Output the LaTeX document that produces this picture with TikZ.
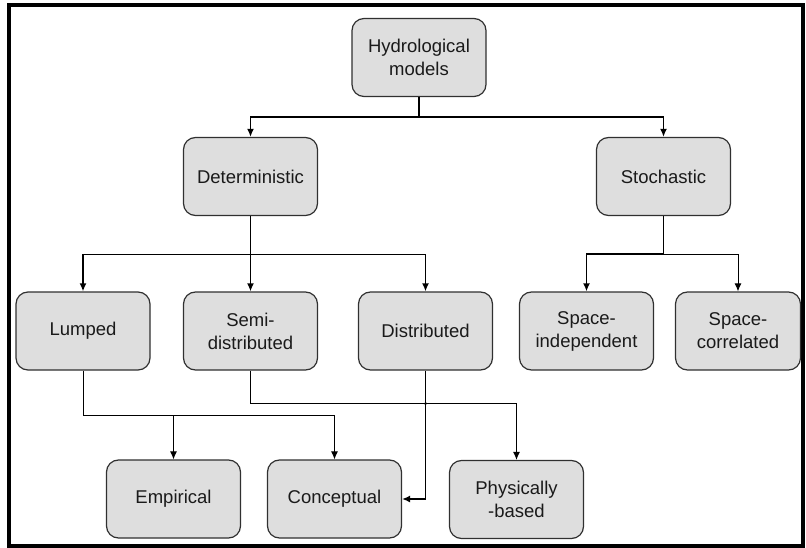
\documentclass[tikz,border=0pt]{standalone}
\usepackage{fontspec}
\setmainfont{Liberation Sans}
\usetikzlibrary{arrows.meta,calc}
\definecolor{boxfill}{HTML}{DEDEDE}
\definecolor{boxline}{HTML}{303030}
\definecolor{txt}{HTML}{1A1A1A}
\tikzset{
  mbox/.style={draw=boxline, line width=1.2pt, fill=boxfill, rounded corners=12pt,
    minimum width=134pt, minimum height=78pt, align=center, inner sep=2pt,
    text=txt, font=\fontsize{18.5}{23}\selectfont},
  thick line/.style={line width=1.8pt},
  thin line/.style={line width=1pt},
  arr/.style={-{Latex[length=8pt,width=7pt]}}
}
\begin{document}
\begin{tikzpicture}[x=1pt,y=-1pt]
\useasboundingbox (0,0) rectangle (806,548);
\draw[line width=4pt] (9,5) rectangle (803,546);

\node[mbox] (hm)   at (419,57.5)  {Hydrological\\models};
\node[mbox] (det)  at (250.5,176.5) {Deterministic};
\node[mbox] (sto)  at (663.5,176.5) {Stochastic};
\node[mbox] (lum)  at (83,331) {Lumped};
\node[mbox] (semi) at (250.5,331) {Semi-\\distributed};
\node[mbox] (dis)  at (425.5,331) {Distributed};
\node[mbox] (si)   at (586.5,331) {Space-\\independent};
\node[mbox, minimum width=125pt] (sc) at (738,331) {Space-\\correlated};
\node[mbox] (emp)  at (173.5,499) {Empirical};
\node[mbox] (con)  at (334.5,499) {Conceptual};
\node[mbox] (phy)  at (516.5,499.5) {Physically\\-based};

% top level
\draw[thick line] (hm.south) -- ++(0,20) coordinate (h1);
\draw[thick line, arr] (h1) -| (det.north);
\draw[thick line, arr] (h1) -| (sto.north);

% deterministic branch
\draw[thick line, arr] (det.south) -- (semi.north);
\coordinate (d1) at ($(det.south)+(0,38.5)$);
\draw[thick line, arr] (d1) -| (lum.north);
\draw[thick line, arr] (d1) -| (dis.north);

% stochastic branch
\draw[thin line] (sto.south) -- ++(0,38) coordinate (s1);
\draw[thick line, arr] (s1) -| (si.north);
\draw[thin line, arr] (s1) -| (sc.north);

% lower connectors
\draw[thin line] (lum.south) -- ++(0,45) coordinate (l1);
\draw[thin line, arr] (l1) -| (con.north);
\draw[thin line, arr] (emp.north |- l1) -- (emp.north);
\draw[thin line, arr] (semi.south) -- ++(0,33) coordinate (m1) -| (phy.north);
\draw[line width=1.4pt, arr] (dis.south) |- (con.east);
\fill (dis.south |- m1) circle (1.6pt);
\end{tikzpicture}
\end{document}
